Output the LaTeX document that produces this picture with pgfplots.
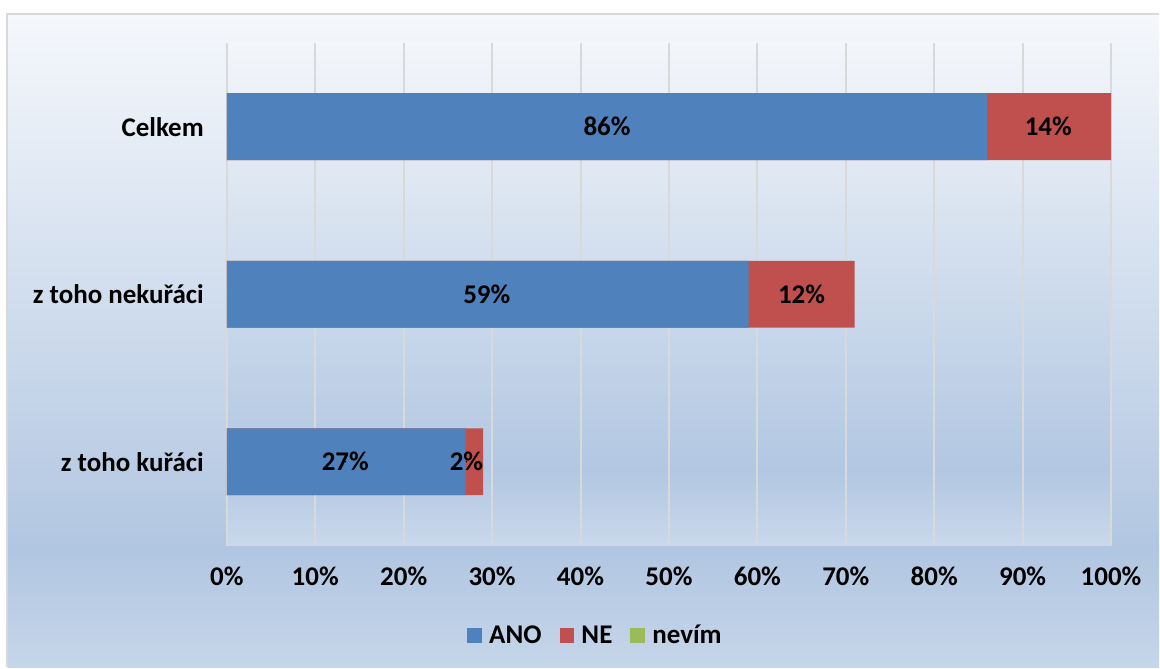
\documentclass[border=0pt]{standalone}
\usepackage{pgfplots}
\pgfplotsset{compat=1.18}
\usepackage{fontspec}
\setmainfont{Carlito}
\definecolor{ano}{HTML}{4F81BD}
\definecolor{ne}{HTML}{C0504D}
\definecolor{nevim}{HTML}{9BBB59}
\definecolor{bgtop}{HTML}{F5F8FC}
\definecolor{bgmid}{HTML}{B1C6E1}
\definecolor{bgbot}{HTML}{C6D6EA}
\definecolor{patop}{HTML}{F3F6FA}
\definecolor{pamid}{HTML}{B2C7E2}
\definecolor{pabot}{HTML}{CAD8EB}
\definecolor{gridc}{HTML}{D9D9D9}
\newcommand\lab{\bfseries\fontsize{13.5}{16}\selectfont}
\begin{document}
\begin{tikzpicture}
\path (-113.5pt,-61pt) rectangle (466.5pt,273pt);
\shade[top color=bgtop,bottom color=bgmid] (-109.75pt,-2.2pt) rectangle (466.5pt,266pt);
\shade[top color=bgmid,bottom color=bgbot] (-109.75pt,-61pt) rectangle (466.5pt,-2pt);
\draw[gridc, line width=1pt] (-109.75pt,-61pt) -- (-109.75pt,266pt) -- (466.5pt,266pt);
\shade[top color=patop,bottom color=pamid] (0pt,37.8pt) rectangle (442.5pt,251.5pt);
\shade[top color=pamid,bottom color=pabot] (0pt,0pt) rectangle (442.5pt,38pt);
\begin{axis}[
  at={(0pt,0pt)}, anchor=south west,
  scale only axis, width=442.5pt, height=251.5pt,
  xmin=0, xmax=100, ymin=-0.5, ymax=2.5,
  axis line style={draw=none},
  xmajorgrids, grid style={gridc, line width=1pt},
  major tick length=0pt,
  xtick={0,10,...,100},
  xticklabel={\pgfmathprintnumber{\tick}\%},
  ytick={0,1,2},
  yticklabels={z toho kuřáci, z toho nekuřáci, Celkem},
  tick label style={font=\lab},
  /pgf/number format/assume math mode=true,
  xticklabel style={yshift=-7pt},
  yticklabel style={xshift=-8pt},
  legend columns=3,
  legend style={draw=none, fill=none, font=\lab, at={(0.418,-0.18)}, anchor=center,
    /tikz/every odd column/.append style={column sep=1.5pt},
    /tikz/every even column/.append style={column sep=7pt}},
  legend image code/.code={\fill[#1, draw=none] (0pt,-3.75pt) rectangle (7.5pt,3.75pt);},
]
% NE segments (drawn to ANO+NE, ANO drawn over them)
\addplot[xbar, bar width=33.5pt, bar shift=0pt, fill=ne, draw=none, forget plot]
  coordinates {(100,2) (71,1) (29,0)};
% ANO
\addplot[xbar, bar width=33.5pt, bar shift=0pt, fill=ano, draw=none, forget plot]
  coordinates {(86,2) (59,1) (27,0)};
% value labels
\addplot[only marks, mark=*, mark size=0.1pt, mark options={draw=none, fill=none}, forget plot,
  point meta=explicit symbolic, nodes near coords, nodes near coords align={center},
  every node near coord/.append style={font=\lab, text=black}]
  coordinates {(43,2) [86\%] (92.9,2) [14\%] (29.4,1) [59\%] (65,1) [12\%] (13.4,0) [27\%] (27.1,0) [2\%]};
\addlegendimage{fill=ano, draw=none}
\addlegendentry{ANO}
\addlegendimage{fill=ne, draw=none}
\addlegendentry{NE}
\addlegendimage{fill=nevim, draw=none}
\addlegendentry{nevím}
\end{axis}
\end{tikzpicture}
\end{document}
